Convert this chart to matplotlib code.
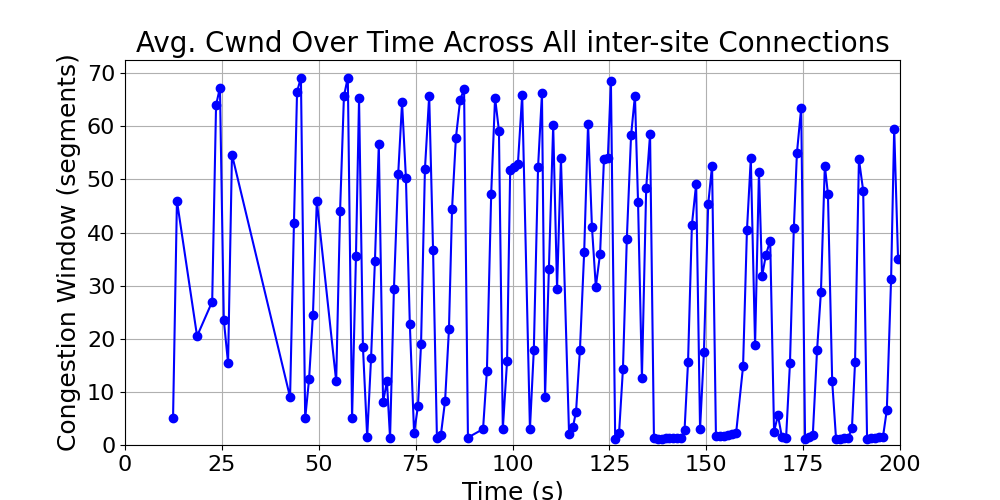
import matplotlib
matplotlib.use('Agg')
import matplotlib.pyplot as plt

# time (s) and average cwnd (segments)
times = [12.4, 13.4, 18.6, 22.5, 23.5, 24.5, 25.5, 26.6, 27.6,
         42.6, 43.6, 44.4, 45.4, 46.5, 47.5, 48.5, 49.5,
         54.5, 55.5, 56.5, 57.5, 58.6, 59.6, 60.4, 61.4, 62.5, 63.5, 64.5, 65.5,
         66.6, 67.6, 68.4, 69.4, 70.5, 71.5, 72.5, 73.5, 74.6, 75.6, 76.4, 77.4,
         78.5, 79.5, 80.5, 81.5, 82.6, 83.6, 84.4, 85.4, 86.5, 87.5, 88.5,
         92.4, 93.4, 94.5, 95.5, 96.5, 97.5, 98.6, 99.4, 100.4, 101.4, 102.5,
         104.5, 105.5, 106.6, 107.6, 108.4, 109.4, 110.5, 111.5, 112.5,
         114.6, 115.6, 116.4, 117.4, 118.5, 119.5, 120.5, 121.5, 122.6, 123.6,
         124.6, 125.4, 126.5, 127.5, 128.5, 129.5, 130.6, 131.6, 132.4, 133.4,
         134.5, 135.5, 136.5, 137.5, 138.5, 139.5, 140.5, 141.5, 142.5, 143.5,
         144.4, 145.3, 146.3, 147.4, 148.4, 149.4, 150.5, 151.5,
         152.5, 153.5, 154.6, 155.6, 156.6, 157.7, 159.5,
         160.5, 161.5, 162.6, 163.6, 164.4, 165.4, 166.5, 167.5, 168.5, 169.5,
         170.6, 171.6, 172.6, 173.4, 174.5, 175.5, 176.5, 177.5, 178.6, 179.6,
         180.6, 181.4, 182.5, 183.5, 184.5, 185.6, 186.6, 187.6, 188.4, 189.4,
         190.5, 191.5, 192.5, 193.6, 194.6, 195.6, 196.6, 197.7, 198.5, 199.5]
cwnd = [5.1, 46, 20.5, 27, 64, 67.3, 23.5, 15.4, 54.7,
        9, 41.8, 66.5, 69.2, 5, 12.4, 24.5, 46,
        12, 44, 65.7, 69.2, 5, 35.5, 65.3, 18.5, 1.5, 16.4, 34.7, 56.7,
        8.1, 12, 1.3, 29.4, 51, 64.5, 50.2, 22.8, 2.3, 7.3, 19, 51.9,
        65.8, 36.7, 1.3, 1.8, 8.3, 21.8, 44.5, 57.9, 65, 67, 1.4,
        3, 14, 47.3, 65.4, 59.2, 3, 15.8, 51.8, 52.4, 53, 66,
        3, 17.9, 52.4, 66.2, 9, 33.1, 60.2, 29.4, 54,
        2, 3.4, 6.3, 17.9, 36.4, 60.5, 41.1, 29.8, 36, 53.8,
        54, 68.5, 1.1, 2.3, 14.3, 38.8, 58.3, 65.8, 45.7, 12.6,
        48.4, 58.5, 1.3, 1.1, 1.2, 1.3, 1.3, 1.3, 1.3, 1.3,
        2.8, 15.6, 41.5, 49.2, 3, 17.5, 45.3, 52.6,
        1.7, 1.7, 1.7, 1.9, 2.0, 2.2, 14.8,
        40.4, 54, 18.8, 51.5, 31.8, 35.8, 38.5, 2.5, 5.6, 1.6,
        1.3, 15.4, 40.8, 55, 63.5, 1.2, 1.5, 1.9, 17.9, 28.9,
        52.6, 47.3, 12, 1.1, 1.2, 1.3, 1.3, 3.2, 15.6, 53.8,
        47.9, 1.1, 1.3, 1.4, 1.5, 1.5, 6.6, 31.2, 59.6, 35]

fig, ax = plt.subplots(figsize=(10, 5), dpi=100)
ax.plot(times, cwnd, color='blue', marker='o', markersize=6, linewidth=1.5)
ax.set_xlim(0, 200)
ax.set_ylim(0, 72.5)
ax.set_title('Avg. Cwnd Over Time Across All inter-site Connections', fontsize=20)
ax.set_xlabel('Time (s)', fontsize=18)
ax.set_ylabel('Congestion Window (segments)', fontsize=18)
ax.tick_params(labelsize=16)
ax.grid(True)
fig.subplots_adjust(left=0.125, right=0.9, top=0.88, bottom=0.11)
fig.savefig('out.png', dpi=100)
